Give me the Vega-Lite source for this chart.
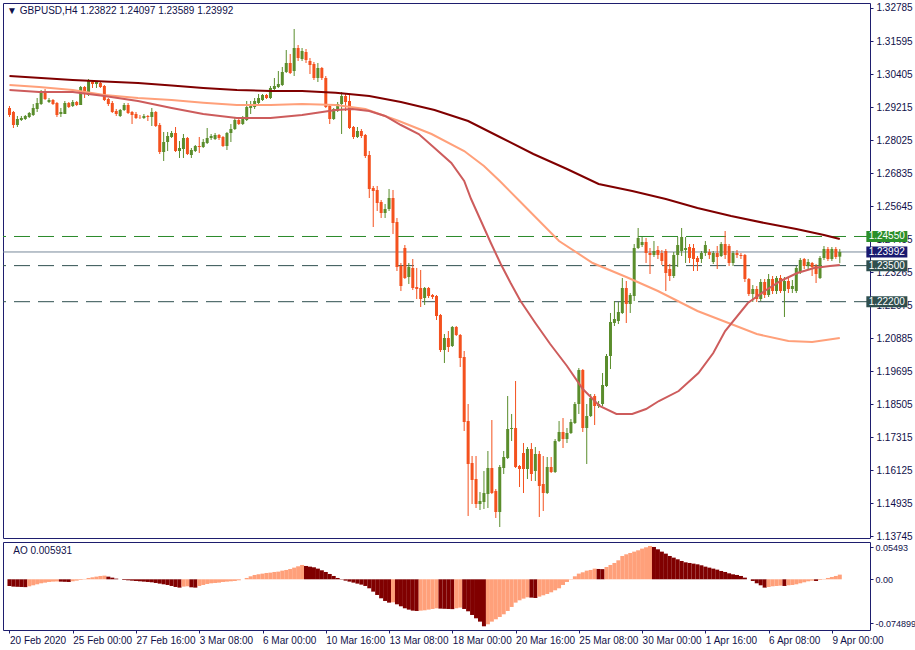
{
"$schema":"https://vega.github.io/schema/vega-lite/v6.json",
"padding":{"left":2,"top":2,"right":0,"bottom":0},
"background":"white",
"spacing":4,
"bounds":"flush",
"config":{"view":{"stroke":"#1e1e6e","strokeWidth":1},"font":"Liberation Sans","axis":{"labelFont":"Liberation Sans","labelFontSize":10,"labelColor":"#10104a","tickColor":"#1e1e6e","domain":false,"grid":false}},
"datasets":{
"tags":[{"price":1.2455,"label":"1.24550","kind":"alert"},{"price":1.23992,"label":"1.23992","kind":"bid"},{"price":1.235,"label":"1.23500","kind":"level"},{"price":1.222,"label":"1.22200","kind":"level"}],
"ohlc":[
{"i":0,"o":1.29181,"h":1.29253,"l":1.28857,"c":1.28929},
{"i":1,"o":1.29037,"h":1.29073,"l":1.2846,"c":1.28568},
{"i":2,"o":1.28568,"h":1.28893,"l":1.28496,"c":1.28785},
{"i":3,"o":1.28749,"h":1.28893,"l":1.28712,"c":1.28821},
{"i":4,"o":1.28785,"h":1.28929,"l":1.28749,"c":1.28893},
{"i":5,"o":1.28857,"h":1.29037,"l":1.28821,"c":1.29001},
{"i":6,"o":1.28929,"h":1.29325,"l":1.28893,"c":1.29181},
{"i":7,"o":1.29145,"h":1.29541,"l":1.29037,"c":1.29361},
{"i":8,"o":1.29325,"h":1.2983,"l":1.29289,"c":1.29757},
{"i":9,"o":1.29757,"h":1.29866,"l":1.29469,"c":1.29505},
{"i":10,"o":1.29397,"h":1.29541,"l":1.29361,"c":1.29469},
{"i":11,"o":1.29469,"h":1.29505,"l":1.29289,"c":1.29325},
{"i":12,"o":1.29361,"h":1.29397,"l":1.28857,"c":1.28929},
{"i":13,"o":1.28965,"h":1.29181,"l":1.28857,"c":1.29037},
{"i":14,"o":1.28965,"h":1.29433,"l":1.28965,"c":1.29361},
{"i":15,"o":1.29361,"h":1.29397,"l":1.29181,"c":1.29217},
{"i":16,"o":1.29253,"h":1.29469,"l":1.29217,"c":1.29397},
{"i":17,"o":1.29397,"h":1.29433,"l":1.29253,"c":1.29289},
{"i":18,"o":1.29289,"h":1.29974,"l":1.29289,"c":1.29938},
{"i":19,"o":1.29938,"h":1.29974,"l":1.29541,"c":1.29685},
{"i":20,"o":1.29649,"h":1.30226,"l":1.29613,"c":1.30154},
{"i":21,"o":1.30118,"h":1.3019,"l":1.29902,"c":1.30046},
{"i":22,"o":1.30046,"h":1.30154,"l":1.29902,"c":1.30118},
{"i":23,"o":1.30082,"h":1.30154,"l":1.29902,"c":1.29938},
{"i":24,"o":1.29974,"h":1.3001,"l":1.29433,"c":1.29469},
{"i":25,"o":1.29505,"h":1.29541,"l":1.29253,"c":1.29325},
{"i":26,"o":1.29361,"h":1.29433,"l":1.29001,"c":1.29037},
{"i":27,"o":1.29073,"h":1.29145,"l":1.28893,"c":1.28965},
{"i":28,"o":1.28893,"h":1.29145,"l":1.28857,"c":1.29109},
{"i":29,"o":1.29109,"h":1.29361,"l":1.29073,"c":1.29289},
{"i":30,"o":1.29289,"h":1.29361,"l":1.28965,"c":1.29001},
{"i":31,"o":1.29037,"h":1.29073,"l":1.28604,"c":1.28929},
{"i":32,"o":1.28965,"h":1.29037,"l":1.28785,"c":1.28821},
{"i":33,"o":1.28857,"h":1.28929,"l":1.28785,"c":1.2885},
{"i":34,"o":1.28821,"h":1.28965,"l":1.28785,"c":1.28893},
{"i":35,"o":1.28893,"h":1.28929,"l":1.28712,"c":1.28857},
{"i":36,"o":1.28857,"h":1.29181,"l":1.28532,"c":1.29037},
{"i":37,"o":1.29037,"h":1.29073,"l":1.28496,"c":1.28532},
{"i":38,"o":1.28568,"h":1.2864,"l":1.27523,"c":1.27595},
{"i":39,"o":1.27595,"h":1.28316,"l":1.27271,"c":1.27955},
{"i":40,"o":1.27955,"h":1.28316,"l":1.27631,"c":1.28172},
{"i":41,"o":1.28136,"h":1.28352,"l":1.281,"c":1.2828},
{"i":42,"o":1.2828,"h":1.28496,"l":1.27595,"c":1.27631},
{"i":43,"o":1.27631,"h":1.27991,"l":1.27379,"c":1.27739},
{"i":44,"o":1.27703,"h":1.28244,"l":1.27379,"c":1.281},
{"i":45,"o":1.281,"h":1.28136,"l":1.27487,"c":1.27523},
{"i":46,"o":1.27487,"h":1.27739,"l":1.27379,"c":1.27667},
{"i":47,"o":1.27631,"h":1.27847,"l":1.27595,"c":1.27811},
{"i":48,"o":1.27811,"h":1.28136,"l":1.27559,"c":1.27775},
{"i":49,"o":1.27775,"h":1.28064,"l":1.27739,"c":1.27955},
{"i":50,"o":1.27919,"h":1.2846,"l":1.27883,"c":1.281},
{"i":51,"o":1.281,"h":1.28244,"l":1.28028,"c":1.28172},
{"i":52,"o":1.28064,"h":1.2828,"l":1.28028,"c":1.28208},
{"i":53,"o":1.28208,"h":1.28244,"l":1.28028,"c":1.281},
{"i":54,"o":1.28136,"h":1.28172,"l":1.27775,"c":1.27811},
{"i":55,"o":1.27811,"h":1.28316,"l":1.27667,"c":1.2828},
{"i":56,"o":1.2828,"h":1.28604,"l":1.27955,"c":1.28424},
{"i":57,"o":1.28424,"h":1.28857,"l":1.28388,"c":1.28749},
{"i":58,"o":1.28749,"h":1.28785,"l":1.28568,"c":1.28604},
{"i":59,"o":1.28604,"h":1.28893,"l":1.28568,"c":1.28821},
{"i":60,"o":1.28749,"h":1.29433,"l":1.28712,"c":1.29217},
{"i":61,"o":1.29181,"h":1.29433,"l":1.28965,"c":1.29253},
{"i":62,"o":1.29217,"h":1.29541,"l":1.29145,"c":1.29433},
{"i":63,"o":1.29361,"h":1.29685,"l":1.29325,"c":1.29541},
{"i":64,"o":1.29469,"h":1.29685,"l":1.29433,"c":1.29649},
{"i":65,"o":1.29649,"h":1.29685,"l":1.29505,"c":1.29541},
{"i":66,"o":1.29541,"h":1.29974,"l":1.29505,"c":1.29902},
{"i":67,"o":1.29866,"h":1.30262,"l":1.29793,"c":1.29974},
{"i":68,"o":1.29938,"h":1.30514,"l":1.29902,"c":1.30046},
{"i":69,"o":1.3001,"h":1.30659,"l":1.29974,"c":1.30478},
{"i":70,"o":1.30478,"h":1.31271,"l":1.30442,"c":1.30803},
{"i":71,"o":1.30803,"h":1.31127,"l":1.30406,"c":1.30442},
{"i":72,"o":1.30514,"h":1.32028,"l":1.30334,"c":1.31343},
{"i":73,"o":1.31343,"h":1.31451,"l":1.30875,"c":1.30983},
{"i":74,"o":1.30947,"h":1.31343,"l":1.30875,"c":1.31235},
{"i":75,"o":1.31199,"h":1.31307,"l":1.30803,"c":1.30911},
{"i":76,"o":1.30875,"h":1.30983,"l":1.30406,"c":1.30731},
{"i":77,"o":1.30767,"h":1.30839,"l":1.3019,"c":1.30262},
{"i":78,"o":1.30262,"h":1.30803,"l":1.30118,"c":1.30623},
{"i":79,"o":1.30623,"h":1.30659,"l":1.3019,"c":1.30262},
{"i":80,"o":1.30262,"h":1.30334,"l":1.29181,"c":1.29217},
{"i":81,"o":1.29253,"h":1.29289,"l":1.28604,"c":1.28785},
{"i":82,"o":1.28785,"h":1.29181,"l":1.28749,"c":1.29145},
{"i":83,"o":1.29073,"h":1.29397,"l":1.29037,"c":1.29325},
{"i":84,"o":1.29325,"h":1.29757,"l":1.28244,"c":1.29613},
{"i":85,"o":1.29613,"h":1.29721,"l":1.29073,"c":1.29397},
{"i":86,"o":1.29433,"h":1.29649,"l":1.28424,"c":1.2846},
{"i":87,"o":1.28496,"h":1.28532,"l":1.28064,"c":1.28136},
{"i":88,"o":1.28136,"h":1.28496,"l":1.281,"c":1.28352},
{"i":89,"o":1.28352,"h":1.28424,"l":1.281,"c":1.28172},
{"i":90,"o":1.28208,"h":1.28244,"l":1.27379,"c":1.27451},
{"i":91,"o":1.27487,"h":1.27631,"l":1.25937,"c":1.26262},
{"i":92,"o":1.26298,"h":1.2637,"l":1.24892,"c":1.26189},
{"i":93,"o":1.26226,"h":1.2637,"l":1.25469,"c":1.25757},
{"i":94,"o":1.25793,"h":1.25865,"l":1.25217,"c":1.25397},
{"i":95,"o":1.25397,"h":1.25721,"l":1.25217,"c":1.25541},
{"i":96,"o":1.25541,"h":1.26262,"l":1.25469,"c":1.25937},
{"i":97,"o":1.25937,"h":1.26226,"l":1.2464,"c":1.25036},
{"i":98,"o":1.25072,"h":1.25217,"l":1.23306,"c":1.2345},
{"i":99,"o":1.23487,"h":1.23595,"l":1.22585,"c":1.22766},
{"i":100,"o":1.24135,"h":1.24243,"l":1.23018,"c":1.23054},
{"i":101,"o":1.2309,"h":1.23595,"l":1.22838,"c":1.2345},
{"i":102,"o":1.23415,"h":1.23739,"l":1.22621,"c":1.22693},
{"i":103,"o":1.22729,"h":1.23415,"l":1.22297,"c":1.22657},
{"i":104,"o":1.22693,"h":1.23343,"l":1.22009,"c":1.22297},
{"i":105,"o":1.22333,"h":1.22729,"l":1.22081,"c":1.22693},
{"i":106,"o":1.22693,"h":1.22729,"l":1.22333,"c":1.22405},
{"i":107,"o":1.22441,"h":1.22477,"l":1.22297,"c":1.22369},
{"i":108,"o":1.22405,"h":1.22441,"l":1.2154,"c":1.21685},
{"i":109,"o":1.21721,"h":1.21757,"l":1.20387,"c":1.20459},
{"i":110,"o":1.20459,"h":1.21036,"l":1.19991,"c":1.20891},
{"i":111,"o":1.20891,"h":1.21144,"l":1.20387,"c":1.20567},
{"i":112,"o":1.20603,"h":1.21324,"l":1.20567,"c":1.21288},
{"i":113,"o":1.21288,"h":1.21324,"l":1.20964,"c":1.21},
{"i":114,"o":1.21,"h":1.21036,"l":1.19847,"c":1.20171},
{"i":115,"o":1.20207,"h":1.20423,"l":1.1754,"c":1.17864},
{"i":116,"o":1.179,"h":1.18513,"l":1.14477,"c":1.16351},
{"i":117,"o":1.16387,"h":1.16639,"l":1.14909,"c":1.15774},
{"i":118,"o":1.1581,"h":1.16639,"l":1.14765,"c":1.14909},
{"i":119,"o":1.14909,"h":1.15341,"l":1.14693,"c":1.15017},
{"i":120,"o":1.14981,"h":1.16098,"l":1.14729,"c":1.15305},
{"i":121,"o":1.15269,"h":1.16819,"l":1.14765,"c":1.16206},
{"i":122,"o":1.16206,"h":1.17936,"l":1.15269,"c":1.15305},
{"i":123,"o":1.15377,"h":1.15449,"l":1.14405,"c":1.14621},
{"i":124,"o":1.14621,"h":1.16315,"l":1.1408,"c":1.16243},
{"i":125,"o":1.16206,"h":1.16819,"l":1.1599,"c":1.16603},
{"i":126,"o":1.16567,"h":1.18801,"l":1.16531,"c":1.17612},
{"i":127,"o":1.17612,"h":1.18153,"l":1.17179,"c":1.17648},
{"i":128,"o":1.17648,"h":1.19342,"l":1.16207,"c":1.16243},
{"i":129,"o":1.16279,"h":1.16315,"l":1.15522,"c":1.16171},
{"i":130,"o":1.16747,"h":1.17107,"l":1.15305,"c":1.16171},
{"i":131,"o":1.16171,"h":1.16963,"l":1.1581,"c":1.16891},
{"i":132,"o":1.16891,"h":1.17107,"l":1.15738,"c":1.1599},
{"i":133,"o":1.16098,"h":1.16963,"l":1.15738,"c":1.16711},
{"i":134,"o":1.16711,"h":1.16819,"l":1.14441,"c":1.15558},
{"i":135,"o":1.1563,"h":1.16639,"l":1.14657,"c":1.15305},
{"i":136,"o":1.15305,"h":1.16603,"l":1.15269,"c":1.16243},
{"i":137,"o":1.16243,"h":1.16603,"l":1.16026,"c":1.16062},
{"i":138,"o":1.16062,"h":1.17251,"l":1.16026,"c":1.17179},
{"i":139,"o":1.17179,"h":1.179,"l":1.17143,"c":1.17504},
{"i":140,"o":1.17504,"h":1.18008,"l":1.16927,"c":1.17251},
{"i":141,"o":1.17251,"h":1.17648,"l":1.17107,"c":1.17468},
{"i":142,"o":1.17468,"h":1.17972,"l":1.17432,"c":1.17864},
{"i":143,"o":1.17828,"h":1.18585,"l":1.17792,"c":1.18513},
{"i":144,"o":1.18513,"h":1.1981,"l":1.18153,"c":1.19738},
{"i":145,"o":1.19738,"h":1.19774,"l":1.17504,"c":1.17648},
{"i":146,"o":1.17648,"h":1.18513,"l":1.16351,"c":1.18081},
{"i":147,"o":1.18081,"h":1.18873,"l":1.18045,"c":1.18729},
{"i":148,"o":1.18801,"h":1.18873,"l":1.17756,"c":1.18441},
{"i":149,"o":1.18441,"h":1.18621,"l":1.18369,"c":1.18513},
{"i":150,"o":1.18513,"h":1.1963,"l":1.18441,"c":1.19198},
{"i":151,"o":1.19162,"h":1.20315,"l":1.19126,"c":1.20243},
{"i":152,"o":1.20243,"h":1.21793,"l":1.19774,"c":1.21468},
{"i":153,"o":1.21432,"h":1.22225,"l":1.21324,"c":1.21576},
{"i":154,"o":1.21504,"h":1.22189,"l":1.21396,"c":1.21829},
{"i":155,"o":1.21793,"h":1.23054,"l":1.21757,"c":1.22693},
{"i":156,"o":1.22693,"h":1.22946,"l":1.21432,"c":1.22117},
{"i":157,"o":1.22117,"h":1.22513,"l":1.21793,"c":1.22441},
{"i":158,"o":1.22405,"h":1.24279,"l":1.22225,"c":1.24135},
{"i":159,"o":1.24135,"h":1.24856,"l":1.24099,"c":1.24495},
{"i":160,"o":1.24243,"h":1.24531,"l":1.24171,"c":1.24351},
{"i":161,"o":1.24351,"h":1.24495,"l":1.23595,"c":1.23955},
{"i":162,"o":1.23955,"h":1.24135,"l":1.23198,"c":1.23883},
{"i":163,"o":1.23883,"h":1.24387,"l":1.23811,"c":1.24027},
{"i":164,"o":1.24063,"h":1.24207,"l":1.23739,"c":1.23883},
{"i":165,"o":1.23955,"h":1.24063,"l":1.23523,"c":1.23667},
{"i":166,"o":1.24027,"h":1.24099,"l":1.22585,"c":1.23234},
{"i":167,"o":1.23378,"h":1.23559,"l":1.22946,"c":1.23126},
{"i":168,"o":1.23126,"h":1.23991,"l":1.23054,"c":1.23883},
{"i":169,"o":1.23883,"h":1.24531,"l":1.2345,"c":1.24243},
{"i":170,"o":1.24027,"h":1.24856,"l":1.23847,"c":1.24531},
{"i":171,"o":1.24063,"h":1.24531,"l":1.23595,"c":1.24135},
{"i":172,"o":1.24171,"h":1.24279,"l":1.23595,"c":1.23775},
{"i":173,"o":1.24135,"h":1.24279,"l":1.23306,"c":1.23739},
{"i":174,"o":1.23775,"h":1.23847,"l":1.23306,"c":1.23631},
{"i":175,"o":1.23739,"h":1.24027,"l":1.23595,"c":1.23955},
{"i":176,"o":1.23955,"h":1.24387,"l":1.23847,"c":1.24243},
{"i":177,"o":1.23991,"h":1.24099,"l":1.23739,"c":1.23883},
{"i":178,"o":1.23631,"h":1.24027,"l":1.23559,"c":1.23955},
{"i":179,"o":1.23955,"h":1.24207,"l":1.23378,"c":1.23811},
{"i":180,"o":1.23847,"h":1.24351,"l":1.23811,"c":1.24279},
{"i":181,"o":1.24279,"h":1.24748,"l":1.23739,"c":1.23883},
{"i":182,"o":1.24207,"h":1.24279,"l":1.23487,"c":1.23595},
{"i":183,"o":1.23595,"h":1.24027,"l":1.23487,"c":1.23955},
{"i":184,"o":1.23955,"h":1.24063,"l":1.23775,"c":1.23883},
{"i":185,"o":1.23883,"h":1.23955,"l":1.23739,"c":1.23847},
{"i":186,"o":1.23883,"h":1.23919,"l":1.2291,"c":1.23018},
{"i":187,"o":1.23018,"h":1.23054,"l":1.22405,"c":1.22477},
{"i":188,"o":1.22477,"h":1.22801,"l":1.22189,"c":1.22657},
{"i":189,"o":1.22657,"h":1.22765,"l":1.22189,"c":1.22297},
{"i":190,"o":1.22297,"h":1.23018,"l":1.22225,"c":1.2291},
{"i":191,"o":1.2291,"h":1.23018,"l":1.22333,"c":1.22441},
{"i":192,"o":1.22441,"h":1.23198,"l":1.22369,"c":1.23018},
{"i":193,"o":1.23018,"h":1.23126,"l":1.22477,"c":1.22585},
{"i":194,"o":1.22585,"h":1.23126,"l":1.22477,"c":1.23054},
{"i":195,"o":1.23054,"h":1.23162,"l":1.22513,"c":1.22585},
{"i":196,"o":1.22585,"h":1.2309,"l":1.21649,"c":1.22946},
{"i":197,"o":1.22946,"h":1.23054,"l":1.22513,"c":1.22657},
{"i":198,"o":1.22657,"h":1.22982,"l":1.22513,"c":1.22765},
{"i":199,"o":1.22585,"h":1.23487,"l":1.22513,"c":1.23415},
{"i":200,"o":1.2327,"h":1.23775,"l":1.23198,"c":1.23703},
{"i":201,"o":1.23739,"h":1.23775,"l":1.23378,"c":1.23487},
{"i":202,"o":1.23487,"h":1.23739,"l":1.23378,"c":1.23631},
{"i":203,"o":1.23595,"h":1.23631,"l":1.23126,"c":1.2345},
{"i":204,"o":1.23487,"h":1.23559,"l":1.22874,"c":1.23198},
{"i":205,"o":1.23054,"h":1.23847,"l":1.23018,"c":1.23775},
{"i":206,"o":1.23775,"h":1.24207,"l":1.23703,"c":1.24099},
{"i":207,"o":1.24099,"h":1.24171,"l":1.23667,"c":1.23739},
{"i":208,"o":1.23739,"h":1.24171,"l":1.23667,"c":1.24099},
{"i":209,"o":1.24099,"h":1.24171,"l":1.23739,"c":1.23811},
{"i":210,"o":1.23822,"h":1.24097,"l":1.23589,"c":1.23992}
],
"ma":[
{"ma":"MA200","i":0,"v":1.30334},{"ma":"MA200","i":8,"v":1.30262},{"ma":"MA200","i":16,"v":1.3019},{"ma":"MA200","i":24,"v":1.30136},{"ma":"MA200","i":32.5,"v":1.30082},{"ma":"MA200","i":41,"v":1.29992},{"ma":"MA200","i":49,"v":1.29902},{"ma":"MA200","i":57.5,"v":1.2983},{"ma":"MA200","i":66,"v":1.29793},{"ma":"MA200","i":74,"v":1.29793},{"ma":"MA200","i":82.5,"v":1.29732},{"ma":"MA200","i":91,"v":1.29613},{"ma":"MA200","i":99,"v":1.29397},{"ma":"MA200","i":107.5,"v":1.29109},{"ma":"MA200","i":116,"v":1.28712},{"ma":"MA200","i":124,"v":1.28136},{"ma":"MA200","i":132.5,"v":1.27523},{"ma":"MA200","i":141,"v":1.26982},{"ma":"MA200","i":149,"v":1.26442},{"ma":"MA200","i":157.5,"v":1.26189},{"ma":"MA200","i":166,"v":1.25901},{"ma":"MA200","i":174,"v":1.25577},{"ma":"MA200","i":182.5,"v":1.25289},{"ma":"MA200","i":191,"v":1.25036},{"ma":"MA200","i":199,"v":1.2482},{"ma":"MA200","i":206,"v":1.24604},{"ma":"MA200","i":210,"v":1.2446},
{"ma":"MA100","i":0,"v":1.3001},{"ma":"MA100","i":7.5,"v":1.29938},{"ma":"MA100","i":16,"v":1.2983},{"ma":"MA100","i":24,"v":1.29649},{"ma":"MA100","i":32.5,"v":1.29541},{"ma":"MA100","i":41,"v":1.29469},{"ma":"MA100","i":49,"v":1.29372},{"ma":"MA100","i":57.5,"v":1.29289},{"ma":"MA100","i":66,"v":1.29289},{"ma":"MA100","i":74,"v":1.29325},{"ma":"MA100","i":82.5,"v":1.29289},{"ma":"MA100","i":90,"v":1.29145},{"ma":"MA100","i":98.5,"v":1.28712},{"ma":"MA100","i":106.75,"v":1.28244},{"ma":"MA100","i":115,"v":1.27631},{"ma":"MA100","i":120,"v":1.27091},{"ma":"MA100","i":124,"v":1.2655},{"ma":"MA100","i":129,"v":1.25829},{"ma":"MA100","i":134,"v":1.25108},{"ma":"MA100","i":139,"v":1.24387},{"ma":"MA100","i":147.5,"v":1.23595},{"ma":"MA100","i":156,"v":1.2309},{"ma":"MA100","i":164,"v":1.22585},{"ma":"MA100","i":174,"v":1.21865},{"ma":"MA100","i":182.5,"v":1.21396},{"ma":"MA100","i":189,"v":1.21036},{"ma":"MA100","i":197,"v":1.20783},{"ma":"MA100","i":203,"v":1.20747},{"ma":"MA100","i":210,"v":1.20891},
{"ma":"MA50","i":0,"v":1.29829},{"ma":"MA50","i":7.5,"v":1.29757},{"ma":"MA50","i":16,"v":1.29757},{"ma":"MA50","i":24,"v":1.29613},{"ma":"MA50","i":32.5,"v":1.29433},{"ma":"MA50","i":41,"v":1.29181},{"ma":"MA50","i":49,"v":1.28965},{"ma":"MA50","i":57.5,"v":1.28821},{"ma":"MA50","i":66,"v":1.28821},{"ma":"MA50","i":74,"v":1.28929},{"ma":"MA50","i":82.5,"v":1.29109},{"ma":"MA50","i":86.75,"v":1.29145},{"ma":"MA50","i":91,"v":1.29073},{"ma":"MA50","i":95,"v":1.28893},{"ma":"MA50","i":99,"v":1.28568},{"ma":"MA50","i":103.5,"v":1.28244},{"ma":"MA50","i":107.5,"v":1.27739},{"ma":"MA50","i":111.75,"v":1.27199},{"ma":"MA50","i":115,"v":1.2655},{"ma":"MA50","i":116.75,"v":1.25901},{"ma":"MA50","i":119.25,"v":1.25108},{"ma":"MA50","i":121.75,"v":1.24315},{"ma":"MA50","i":124.25,"v":1.23559},{"ma":"MA50","i":126.75,"v":1.22874},{"ma":"MA50","i":129.25,"v":1.22225},{"ma":"MA50","i":133,"v":1.21432},{"ma":"MA50","i":136.75,"v":1.20675},{"ma":"MA50","i":141,"v":1.19883},{"ma":"MA50","i":145,"v":1.19054},{"ma":"MA50","i":149.25,"v":1.18441},{"ma":"MA50","i":153.5,"v":1.18153},{"ma":"MA50","i":157.5,"v":1.18153},{"ma":"MA50","i":161,"v":1.18333},{"ma":"MA50","i":164.25,"v":1.18621},{"ma":"MA50","i":169.25,"v":1.18981},{"ma":"MA50","i":174.25,"v":1.1963},{"ma":"MA50","i":178,"v":1.20351},{"ma":"MA50","i":181,"v":1.21144},{"ma":"MA50","i":186.75,"v":1.22153},{"ma":"MA50","i":191,"v":1.22585},{"ma":"MA50","i":195,"v":1.22946},{"ma":"MA50","i":199.25,"v":1.23234},{"ma":"MA50","i":203.5,"v":1.23415},{"ma":"MA50","i":207.5,"v":1.23487},{"ma":"MA50","i":210,"v":1.23523}
],
"ao":[
{"i":0,"v":-0.0114,"dir":"down"},{"i":1,"v":-0.01254,"dir":"down"},{"i":2,"v":-0.01283,"dir":"down"},{"i":3,"v":-0.01311,"dir":"down"},{"i":4,"v":-0.0134,"dir":"down"},
{"i":5,"v":-0.01197,"dir":"up"},{"i":6,"v":-0.01026,"dir":"up"},{"i":7,"v":-0.00855,"dir":"up"},{"i":8,"v":-0.00684,"dir":"up"},{"i":9,"v":-0.0057,"dir":"up"},{"i":10,"v":-0.00456,"dir":"up"},{"i":11,"v":-0.00399,"dir":"up"},{"i":12,"v":-0.00371,"dir":"up"},
{"i":13,"v":-0.00399,"dir":"down"},{"i":14,"v":-0.00428,"dir":"down"},{"i":15,"v":-0.00456,"dir":"down"},
{"i":16,"v":-0.00342,"dir":"up"},{"i":17,"v":-0.00228,"dir":"up"},{"i":18,"v":-0.00114,"dir":"up"},{"i":19,"v":0.00057,"dir":"up"},{"i":20,"v":0.00228,"dir":"up"},{"i":21,"v":0.00342,"dir":"up"},{"i":22,"v":0.00456,"dir":"up"},{"i":23,"v":0.0057,"dir":"up"},{"i":24,"v":0.00627,"dir":"up"},
{"i":25,"v":0.00456,"dir":"down"},{"i":26,"v":0.00285,"dir":"down"},{"i":27,"v":0.00114,"dir":"down"},{"i":28,"v":0,"dir":"down"},{"i":29,"v":-0.00114,"dir":"down"},{"i":30,"v":-0.00171,"dir":"down"},{"i":31,"v":-0.00228,"dir":"down"},{"i":32,"v":-0.00285,"dir":"down"},{"i":33,"v":-0.00342,"dir":"down"},{"i":34,"v":-0.00399,"dir":"down"},{"i":35,"v":-0.00456,"dir":"down"},{"i":36,"v":-0.00513,"dir":"down"},{"i":37,"v":-0.00627,"dir":"down"},{"i":38,"v":-0.00741,"dir":"down"},{"i":39,"v":-0.00855,"dir":"down"},{"i":40,"v":-0.00969,"dir":"down"},{"i":41,"v":-0.0114,"dir":"down"},{"i":42,"v":-0.01311,"dir":"down"},{"i":43,"v":-0.01425,"dir":"down"},
{"i":44,"v":-0.01254,"dir":"up"},{"i":45,"v":-0.01197,"dir":"up"},{"i":46,"v":-0.01368,"dir":"down"},{"i":47,"v":-0.01425,"dir":"down"},
{"i":48,"v":-0.0114,"dir":"up"},{"i":49,"v":-0.00969,"dir":"up"},{"i":50,"v":-0.00798,"dir":"up"},{"i":51,"v":-0.00684,"dir":"up"},{"i":52,"v":-0.00627,"dir":"up"},{"i":53,"v":-0.0057,"dir":"up"},{"i":54,"v":-0.00456,"dir":"up"},{"i":55,"v":-0.00399,"dir":"up"},{"i":56,"v":-0.00342,"dir":"up"},{"i":57,"v":-0.00285,"dir":"up"},{"i":58,"v":-0.00171,"dir":"up"},{"i":59,"v":0,"dir":"up"},{"i":60,"v":0.00228,"dir":"up"},{"i":61,"v":0.00513,"dir":"up"},{"i":62,"v":0.00741,"dir":"up"},{"i":63,"v":0.00855,"dir":"up"},{"i":64,"v":0.00969,"dir":"up"},{"i":65,"v":0.01083,"dir":"up"},{"i":66,"v":0.0114,"dir":"up"},{"i":67,"v":0.01254,"dir":"up"},{"i":68,"v":0.01311,"dir":"up"},{"i":69,"v":0.01482,"dir":"up"},{"i":70,"v":0.01596,"dir":"up"},{"i":71,"v":0.01767,"dir":"up"},{"i":72,"v":0.01995,"dir":"up"},{"i":73,"v":0.02223,"dir":"up"},{"i":74,"v":0.02451,"dir":"up"},
{"i":75,"v":0.0228,"dir":"down"},{"i":76,"v":0.02166,"dir":"down"},{"i":77,"v":0.02052,"dir":"down"},{"i":78,"v":0.01824,"dir":"down"},{"i":79,"v":0.01539,"dir":"down"},{"i":80,"v":0.01254,"dir":"down"},{"i":81,"v":0.00912,"dir":"down"},{"i":82,"v":0.0057,"dir":"down"},{"i":83,"v":0.00228,"dir":"down"},{"i":84,"v":-0.00057,"dir":"down"},{"i":85,"v":-0.00228,"dir":"down"},{"i":86,"v":-0.00399,"dir":"down"},{"i":87,"v":-0.0057,"dir":"down"},{"i":88,"v":-0.00741,"dir":"down"},{"i":89,"v":-0.00912,"dir":"down"},{"i":90,"v":-0.0114,"dir":"down"},{"i":91,"v":-0.01539,"dir":"down"},{"i":92,"v":-0.02109,"dir":"down"},{"i":93,"v":-0.02679,"dir":"down"},{"i":94,"v":-0.03249,"dir":"down"},{"i":95,"v":-0.03705,"dir":"down"},{"i":96,"v":-0.0399,"dir":"down"},
{"i":97,"v":-0.03933,"dir":"up"},
{"i":98,"v":-0.04275,"dir":"down"},{"i":99,"v":-0.04617,"dir":"down"},{"i":100,"v":-0.04959,"dir":"down"},{"i":101,"v":-0.05187,"dir":"down"},{"i":102,"v":-0.05358,"dir":"down"},{"i":103,"v":-0.05415,"dir":"down"},
{"i":104,"v":-0.05358,"dir":"up"},{"i":105,"v":-0.05301,"dir":"up"},{"i":106,"v":-0.05187,"dir":"up"},{"i":107,"v":-0.05073,"dir":"up"},{"i":108,"v":-0.04959,"dir":"up"},
{"i":109,"v":-0.05016,"dir":"down"},{"i":110,"v":-0.05045,"dir":"down"},{"i":111,"v":-0.05073,"dir":"down"},{"i":112,"v":-0.05102,"dir":"down"},
{"i":113,"v":-0.04959,"dir":"up"},{"i":114,"v":-0.04845,"dir":"up"},
{"i":115,"v":-0.05073,"dir":"down"},{"i":116,"v":-0.05472,"dir":"down"},{"i":117,"v":-0.06099,"dir":"down"},{"i":118,"v":-0.06669,"dir":"down"},{"i":119,"v":-0.07239,"dir":"down"},{"i":120,"v":-0.08037,"dir":"down"},
{"i":121,"v":-0.07695,"dir":"up"},{"i":122,"v":-0.07239,"dir":"up"},{"i":123,"v":-0.0684,"dir":"up"},{"i":124,"v":-0.06441,"dir":"up"},{"i":125,"v":-0.05985,"dir":"up"},{"i":126,"v":-0.05415,"dir":"up"},{"i":127,"v":-0.04731,"dir":"up"},{"i":128,"v":-0.0399,"dir":"up"},{"i":129,"v":-0.03591,"dir":"up"},{"i":130,"v":-0.03306,"dir":"up"},{"i":131,"v":-0.03078,"dir":"up"},
{"i":132,"v":-0.03135,"dir":"down"},{"i":133,"v":-0.03192,"dir":"down"},
{"i":134,"v":-0.02964,"dir":"up"},{"i":135,"v":-0.02736,"dir":"up"},{"i":136,"v":-0.02508,"dir":"up"},{"i":137,"v":-0.02223,"dir":"up"},{"i":138,"v":-0.01881,"dir":"up"},{"i":139,"v":-0.01539,"dir":"up"},{"i":140,"v":-0.00969,"dir":"up"},{"i":141,"v":-0.00456,"dir":"up"},{"i":142,"v":-0.00057,"dir":"up"},{"i":143,"v":0.00513,"dir":"up"},{"i":144,"v":0.00969,"dir":"up"},{"i":145,"v":0.01197,"dir":"up"},{"i":146,"v":0.01482,"dir":"up"},{"i":147,"v":0.01596,"dir":"up"},{"i":148,"v":0.01824,"dir":"up"},
{"i":149,"v":0.01767,"dir":"down"},{"i":150,"v":0.01739,"dir":"down"},
{"i":151,"v":0.02109,"dir":"up"},{"i":152,"v":0.02451,"dir":"up"},{"i":153,"v":0.02793,"dir":"up"},{"i":154,"v":0.03249,"dir":"up"},{"i":155,"v":0.0399,"dir":"up"},{"i":156,"v":0.04275,"dir":"up"},{"i":157,"v":0.04503,"dir":"up"},{"i":158,"v":0.04731,"dir":"up"},{"i":159,"v":0.04959,"dir":"up"},{"i":160,"v":0.05244,"dir":"up"},{"i":161,"v":0.05472,"dir":"up"},{"i":162,"v":0.057,"dir":"up"},
{"i":163,"v":0.05529,"dir":"down"},{"i":164,"v":0.0513,"dir":"down"},{"i":165,"v":0.04731,"dir":"down"},{"i":166,"v":0.04389,"dir":"down"},{"i":167,"v":0.0399,"dir":"down"},{"i":168,"v":0.03705,"dir":"down"},{"i":169,"v":0.0342,"dir":"down"},{"i":170,"v":0.03135,"dir":"down"},{"i":171,"v":0.02907,"dir":"down"},{"i":172,"v":0.02793,"dir":"down"},{"i":173,"v":0.02679,"dir":"down"},{"i":174,"v":0.02565,"dir":"down"},{"i":175,"v":0.02394,"dir":"down"},{"i":176,"v":0.02166,"dir":"down"},{"i":177,"v":0.01995,"dir":"down"},{"i":178,"v":0.01824,"dir":"down"},{"i":179,"v":0.01653,"dir":"down"},{"i":180,"v":0.01425,"dir":"down"},{"i":181,"v":0.01254,"dir":"down"},{"i":182,"v":0.01026,"dir":"down"},{"i":183,"v":0.00855,"dir":"down"},{"i":184,"v":0.00741,"dir":"down"},{"i":185,"v":0.0057,"dir":"down"},{"i":186,"v":0.00285,"dir":"down"},{"i":187,"v":0,"dir":"down"},{"i":188,"v":-0.00285,"dir":"down"},{"i":189,"v":-0.00684,"dir":"down"},{"i":190,"v":-0.01026,"dir":"down"},{"i":191,"v":-0.01425,"dir":"down"},
{"i":192,"v":-0.01311,"dir":"up"},{"i":193,"v":-0.01197,"dir":"up"},{"i":194,"v":-0.0114,"dir":"up"},{"i":195,"v":-0.01083,"dir":"up"},
{"i":196,"v":-0.0114,"dir":"down"},
{"i":197,"v":-0.01026,"dir":"up"},{"i":198,"v":-0.00969,"dir":"up"},{"i":199,"v":-0.00855,"dir":"up"},{"i":200,"v":-0.00684,"dir":"up"},{"i":201,"v":-0.00513,"dir":"up"},{"i":202,"v":-0.00342,"dir":"up"},{"i":203,"v":-0.00228,"dir":"up"},
{"i":204,"v":-0.00285,"dir":"down"},
{"i":205,"v":-0.00114,"dir":"up"},{"i":206,"v":0.00057,"dir":"up"},{"i":207,"v":0.00228,"dir":"up"},{"i":208,"v":0.00399,"dir":"up"},{"i":209,"v":0.0057,"dir":"up"},{"i":210,"v":0.00798,"dir":"up"}
]
},
"vconcat":[
{
"width":867,"height":535,
"layer":[
{"data":{"name":"tags"},"transform":[{"filter":"datum.kind !== 'bid'"}],
 "mark":{"type":"rule","strokeWidth":1,"strokeDash":[16,8]},
 "encoding":{
  "y":{"field":"price","type":"quantitative","scale":{"domain":[1.13684,1.32965],"nice":false,"zero":false},
   "axis":{"orient":"right","title":null,"zindex":0,"values":[1.32785,1.31595,1.30405,1.29215,1.28025,1.26835,1.25645,1.24455,1.23265,1.22075,1.20885,1.19695,1.18505,1.17315,1.16125,1.14935,1.13745],"format":".5f","tickSize":3,"labelPadding":3,"labelAlign":"left","labelBaseline":"middle","labelOverlap":false,"labelFlush":false,"labelBound":false,"domain":false,"grid":false}},
  "color":{"condition":{"test":"datum.kind === 'alert'","value":"#2b8a2b"},"value":"#2f4f4f"}}},
{"data":{"name":"tags"},"transform":[{"filter":"datum.kind === 'bid'"}],
 "mark":{"type":"rule","strokeWidth":1,"color":"#778899"},
 "encoding":{"y":{"field":"price","type":"quantitative","scale":{"domain":[1.13684,1.32965],"nice":false,"zero":false},
   "axis":{"orient":"right","title":null,"zindex":0,"values":[1.32785,1.31595,1.30405,1.29215,1.28025,1.26835,1.25645,1.24455,1.23265,1.22075,1.20885,1.19695,1.18505,1.17315,1.16125,1.14935,1.13745],"format":".5f","tickSize":3,"labelPadding":3,"labelAlign":"left","labelBaseline":"middle","labelOverlap":false,"labelFlush":false,"labelBound":false,"domain":false,"grid":false}}}},
{"data":{"name":"ohlc"},
 "mark":{"type":"rule","strokeWidth":1},
 "encoding":{
  "x":{"field":"i","type":"quantitative","scale":{"domain":[-0.375,216.375],"nice":false,"zero":false},"axis":null},
  "y":{"field":"l","type":"quantitative","scale":{"domain":[1.13684,1.32965],"nice":false,"zero":false},
   "axis":{"orient":"right","title":null,"zindex":0,"values":[1.32785,1.31595,1.30405,1.29215,1.28025,1.26835,1.25645,1.24455,1.23265,1.22075,1.20885,1.19695,1.18505,1.17315,1.16125,1.14935,1.13745],"format":".5f","tickSize":3,"labelPadding":3,"labelAlign":"left","labelBaseline":"middle","labelOverlap":false,"labelFlush":false,"labelBound":false,"domain":false,"grid":false}},
  "y2":{"field":"h"},
  "color":{"condition":{"test":"datum.c >= datum.o","value":"#5a8d2c"},"value":"#f4511e"}}},
{"data":{"name":"ohlc"},
 "mark":{"type":"bar","width":3,"orient":"vertical"},
 "encoding":{
  "x":{"field":"i","type":"quantitative","scale":{"domain":[-0.375,216.375],"nice":false,"zero":false},"axis":null},
  "y":{"field":"o","type":"quantitative","scale":{"domain":[1.13684,1.32965],"nice":false,"zero":false},
   "axis":{"orient":"right","title":null,"zindex":0,"values":[1.32785,1.31595,1.30405,1.29215,1.28025,1.26835,1.25645,1.24455,1.23265,1.22075,1.20885,1.19695,1.18505,1.17315,1.16125,1.14935,1.13745],"format":".5f","tickSize":3,"labelPadding":3,"labelAlign":"left","labelBaseline":"middle","labelOverlap":false,"labelFlush":false,"labelBound":false,"domain":false,"grid":false}},
  "y2":{"field":"c"},
  "color":{"condition":{"test":"datum.c >= datum.o","value":"#5a8d2c"},"value":"#f4511e"}}},
{"data":{"name":"ma"},
 "mark":{"type":"line","strokeWidth":2},
 "encoding":{
  "x":{"field":"i","type":"quantitative","scale":{"domain":[-0.375,216.375],"nice":false,"zero":false},"axis":null},
  "y":{"field":"v","type":"quantitative","scale":{"domain":[1.13684,1.32965],"nice":false,"zero":false},
   "axis":{"orient":"right","title":null,"zindex":0,"values":[1.32785,1.31595,1.30405,1.29215,1.28025,1.26835,1.25645,1.24455,1.23265,1.22075,1.20885,1.19695,1.18505,1.17315,1.16125,1.14935,1.13745],"format":".5f","tickSize":3,"labelPadding":3,"labelAlign":"left","labelBaseline":"middle","labelOverlap":false,"labelFlush":false,"labelBound":false,"domain":false,"grid":false}},
  "color":{"field":"ma","type":"nominal","scale":{"domain":["MA50","MA100","MA200"],"range":["#cd5c5c","#ffa07a","#800000"]},"legend":null},
  "order":{"field":"i","type":"quantitative"}}},
{"data":{"name":"tags"},
 "mark":{"type":"tick","orient":"horizontal","size":41,"thickness":11,"opacity":1},
 "encoding":{
  "x":{"datum":221.9,"type":"quantitative","scale":{"domain":[-0.375,216.375],"nice":false,"zero":false},"axis":null},
  "y":{"field":"price","type":"quantitative","scale":{"domain":[1.13684,1.32965],"nice":false,"zero":false},
   "axis":{"orient":"right","title":null,"zindex":0,"values":[1.32785,1.31595,1.30405,1.29215,1.28025,1.26835,1.25645,1.24455,1.23265,1.22075,1.20885,1.19695,1.18505,1.17315,1.16125,1.14935,1.13745],"format":".5f","tickSize":3,"labelPadding":3,"labelAlign":"left","labelBaseline":"middle","labelOverlap":false,"labelFlush":false,"labelBound":false,"domain":false,"grid":false}},
  "color":{"condition":[{"test":"datum.kind === 'alert'","value":"#2b8f2b"},{"test":"datum.kind === 'bid'","value":"#191970"}],"value":"#2f4f4f"}}},
{"data":{"name":"tags"},
 "mark":{"type":"text","align":"left","baseline":"middle","fontSize":10,"color":"white","font":"Liberation Sans"},
 "encoding":{
  "x":{"datum":217.3,"type":"quantitative","scale":{"domain":[-0.375,216.375],"nice":false,"zero":false},"axis":null},
  "y":{"field":"price","type":"quantitative","scale":{"domain":[1.13684,1.32965],"nice":false,"zero":false},
   "axis":{"orient":"right","title":null,"zindex":0,"values":[1.32785,1.31595,1.30405,1.29215,1.28025,1.26835,1.25645,1.24455,1.23265,1.22075,1.20885,1.19695,1.18505,1.17315,1.16125,1.14935,1.13745],"format":".5f","tickSize":3,"labelPadding":3,"labelAlign":"left","labelBaseline":"middle","labelOverlap":false,"labelFlush":false,"labelBound":false,"domain":false,"grid":false}},
  "text":{"field":"label"}}},
{"data":{"values":[{"t":"▼ GBPUSD,H4  1.23822 1.24097 1.23589 1.23992"}]},
 "mark":{"type":"text","align":"left","baseline":"middle","fontSize":10,"color":"#10104a","font":"Liberation Sans"},
 "encoding":{
  "x":{"datum":-0.6,"type":"quantitative","scale":{"domain":[-0.375,216.375],"nice":false,"zero":false},"axis":null},
  "y":{"datum":1.32659,"type":"quantitative","scale":{"domain":[1.13684,1.32965],"nice":false,"zero":false},
   "axis":{"orient":"right","title":null,"zindex":0,"values":[1.32785,1.31595,1.30405,1.29215,1.28025,1.26835,1.25645,1.24455,1.23265,1.22075,1.20885,1.19695,1.18505,1.17315,1.16125,1.14935,1.13745],"format":".5f","tickSize":3,"labelPadding":3,"labelAlign":"left","labelBaseline":"middle","labelOverlap":false,"labelFlush":false,"labelBound":false,"domain":false,"grid":false}},
  "text":{"field":"t"}}}
]
},
{
"width":867,"height":88,
"layer":[
{"data":{"name":"ao"},
 "mark":{"type":"bar","width":4,"orient":"vertical"},
 "encoding":{
  "x":{"field":"i","type":"quantitative","scale":{"domain":[-0.375,216.375],"nice":false,"zero":false},
   "axis":{"orient":"bottom","title":null,"values":[0,16,32,48,64,80,96,112,128,144,160,176,192,208],
    "labelExpr":"['20 Feb 2020','25 Feb 00:00','27 Feb 16:00','3 Mar 08:00','6 Mar 00:00','10 Mar 16:00','13 Mar 08:00','18 Mar 00:00','20 Mar 16:00','25 Mar 08:00','30 Mar 00:00','1 Apr 16:00','6 Apr 08:00','9 Apr 00:00'][round(datum.value/16)]",
    "labelAlign":"left","labelBaseline":"top","tickSize":3,"labelPadding":2,"labelFlush":false,"labelOverlap":false,"labelBound":false,"domain":false,"grid":false}},
  "y":{"field":"v","type":"quantitative","scale":{"domain":[-0.0867,0.06378],"nice":false,"zero":false},
   "axis":{"orient":"right","title":null,"values":[0.05493,0,-0.074899],
    "labelExpr":"datum.value > 0.01 ? '0.05493' : (datum.value < -0.01 ? '-0.074899' : '0.00')",
    "tickSize":3,"labelPadding":2,"labelFontSize":9,"labelAlign":"left","labelBaseline":"middle","labelOverlap":false,"labelFlush":false,"labelBound":false,"domain":false,"grid":false}},
  "y2":{"datum":0},
  "color":{"condition":{"test":"datum.dir === 'down'","value":"#800000"},"value":"#ffa07a"}}},
{"data":{"values":[{"t":"AO 0.005931"}]},
 "mark":{"type":"text","align":"left","baseline":"middle","fontSize":10,"color":"#10104a","font":"Liberation Sans"},
 "encoding":{
  "x":{"datum":0.95,"type":"quantitative","scale":{"domain":[-0.375,216.375],"nice":false,"zero":false}},
  "y":{"datum":0.0484,"type":"quantitative","scale":{"domain":[-0.0867,0.06378],"nice":false,"zero":false}},
  "text":{"field":"t"}}}
]
}
]
}
